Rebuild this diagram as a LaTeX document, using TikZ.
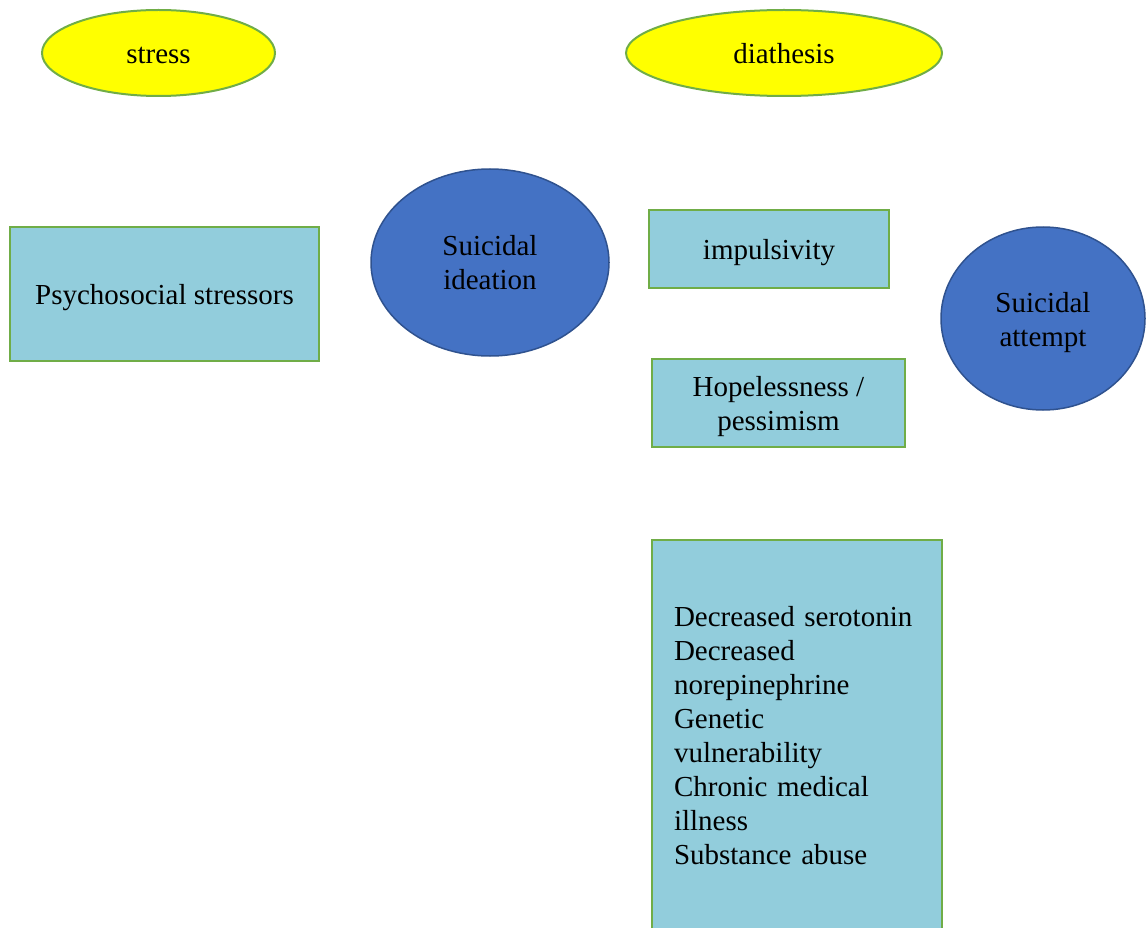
\documentclass[tikz,border=0pt]{standalone}
\usepackage{fontspec}
\setmainfont{Liberation Serif}
\usetikzlibrary{shapes.geometric}

\definecolor{factorfill}{HTML}{FFFF00}
\definecolor{greenline}{HTML}{70AD47}
\definecolor{circlefill}{HTML}{4472C4}
\definecolor{circleline}{HTML}{2F528F}
\definecolor{boxfill}{HTML}{92CDDC}

% text set a little lower in its shape, as in the original
\newcommand{\lowtext}[1]{\raisebox{-4pt}[\height][\depth]{\begin{tabular}{@{}c@{}}#1\end{tabular}}}

\begin{document}
\begin{tikzpicture}[
            x=1pt, y=-1pt,
            every node/.style={font=\fontsize{29}{34}\selectfont, text=black, inner sep=0pt},
            factor/.style={ellipse, fill=factorfill, draw=greenline, line width=2pt, minimum height=86pt},
            outcome/.style={ellipse, fill=circlefill, draw=circleline, line width=1.5pt, align=center},
            cause/.style={rectangle, fill=boxfill, draw=greenline, line width=2pt, align=center},
        ]
            \useasboundingbox (0, 0) rectangle (1148, 928);
            %% headings
            \node[factor, minimum width=233pt] at (158.5, 53) (stress) {\lowtext{stress}};
            \node[factor, minimum width=316pt] at (784, 53) (diathesis) {\lowtext{diathesis}};
            %% stress side
            \node[cause, minimum width=309pt, minimum height=134pt] at (164.5, 294) (stressors) {\lowtext{Psychosocial stressors}};
            \node[outcome, minimum width=238pt, minimum height=187pt] at (490, 262.5) (ideation) {Suicidal\\ideation};
            %% diathesis side
            \node[cause, minimum width=240pt, minimum height=78pt] at (769, 249) (impulsivity) {\lowtext{impulsivity}};
            \node[cause, minimum width=253pt, minimum height=88pt] at (778.5, 403) (hopelessness) {\lowtext{Hopelessness /\\pessimism}};
            \node[cause, align=left, inner xsep=22pt, text width=246pt, minimum height=392pt, anchor=north] at (797, 539) (biology)
                {Decreased serotonin\\Decreased\\norepinephrine\\Genetic\\vulnerability\\Chronic medical\\illness\\Substance abuse};
            \node[outcome, minimum width=204pt, minimum height=183pt] at (1043, 318.5) (attempt) {\lowtext{Suicidal\\attempt}};
\end{tikzpicture}
\end{document}
